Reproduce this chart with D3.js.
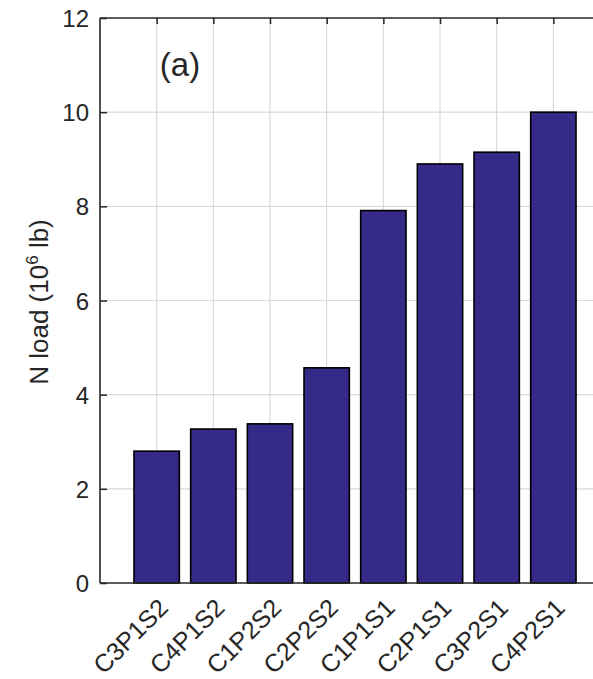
<!DOCTYPE html>
<html>
<head>
<meta charset="utf-8">
<script src="https://cdn.jsdelivr.net/npm/d3@7"></script>
<style>
  html, body { margin: 0; padding: 0; background: #fff; }
  svg { display: block; }
  text { font-family: "Liberation Sans", Arial, Helvetica, sans-serif; fill: #262626; }
</style>
</head>
<body>
<svg id="chart" width="593" height="679"></svg>
<script>
const categories = ["C3P1S2", "C4P1S2", "C1P2S2", "C2P2S2", "C1P1S1", "C2P1S1", "C3P2S1", "C4P2S1"];
const values = [2.80, 3.27, 3.38, 4.57, 7.91, 8.90, 9.15, 10.0];
const yTicks = [0, 2, 4, 6, 8, 10, 12];
const panelLabel = "(a)";

const svg = d3.select("#chart");
const mLeft = 100, mTop = 18, mBottom = 583;
const step = 56.67;
const mRight = mLeft + step * (categories.length + 1);

const x = d3.scalePoint().domain(categories).range([mLeft + step, mRight - step]);
const y = d3.scaleLinear().domain([0, 12]).range([mBottom, mTop]);
const barW = step * 0.8;

const axisColor = "#262626";
const gridColor = "#dadada";

// grid
svg.append("g").selectAll("line").data(categories).join("line")
  .attr("x1", d => x(d)).attr("x2", d => x(d))
  .attr("y1", mTop).attr("y2", mBottom)
  .attr("stroke", gridColor).attr("stroke-width", 1.2);
svg.append("g").selectAll("line").data(yTicks.slice(1, -1)).join("line")
  .attr("x1", mLeft).attr("x2", mRight)
  .attr("y1", d => y(d)).attr("y2", d => y(d))
  .attr("stroke", gridColor).attr("stroke-width", 1.2);

// bars
svg.append("g").selectAll("rect").data(values).join("rect")
  .attr("x", (d, i) => x(categories[i]) - barW / 2)
  .attr("y", d => y(d))
  .attr("width", barW)
  .attr("height", d => y(0) - y(d))
  .attr("fill", "#352a87")
  .attr("stroke", "#000")
  .attr("stroke-width", 1.6);

// left axis (ticks inward)
const yAxis = d3.axisLeft(y).tickValues(yTicks).tickSize(-7).tickPadding(11).tickFormat(d3.format("d"));
const gy = svg.append("g").attr("transform", `translate(${mLeft},0)`).call(yAxis);
gy.select(".domain").remove();
gy.selectAll(".tick line").attr("stroke", axisColor).attr("stroke-width", 1.5);
gy.selectAll(".tick text").attr("font-size", 24).attr("fill", axisColor).attr("dy", "0.36em");

// top axis ticks (inward)
const xTop = d3.axisTop(x).tickSize(-6).tickFormat("");
const gt = svg.append("g").attr("transform", `translate(0,${mTop})`).call(xTop);
gt.select(".domain").remove();
gt.selectAll(".tick line").attr("stroke", axisColor).attr("stroke-width", 1.5);

// bottom axis labels
const xBottom = d3.axisBottom(x).tickSize(0).tickPadding(0);
const gb = svg.append("g").attr("transform", `translate(0,${mBottom})`).call(xBottom);
gb.select(".domain").remove();
gb.selectAll(".tick text")
  .attr("font-size", 25)
  .attr("fill", axisColor)
  .attr("text-anchor", "end")
  .attr("y", 0)
  .attr("dy", "0.36em")
  .attr("transform", "translate(6,20) rotate(-45)");

// box lines
svg.append("line").attr("x1", mLeft).attr("x2", mLeft).attr("y1", mTop).attr("y2", mBottom)
  .attr("stroke", axisColor).attr("stroke-width", 1.6);
svg.append("line").attr("x1", mLeft).attr("x2", mRight).attr("y1", mTop).attr("y2", mTop)
  .attr("stroke", axisColor).attr("stroke-width", 1.6);
svg.append("line").attr("x1", mLeft).attr("x2", mRight).attr("y1", mBottom).attr("y2", mBottom)
  .attr("stroke", axisColor).attr("stroke-width", 1.6);

// y label
svg.append("text")
  .attr("transform", `translate(48,302) rotate(-90)`)
  .attr("text-anchor", "middle")
  .attr("font-size", 26)
  .attr("fill", axisColor)
  .call(t => {
    t.append("tspan").text("N load (10");
    t.append("tspan").attr("font-size", 17).attr("dy", -10).text("6");
    t.append("tspan").attr("dy", 10).text(" lb)");
  });

// panel label
svg.append("text")
  .attr("x", 180).attr("y", 76)
  .attr("text-anchor", "middle")
  .attr("font-size", 33)
  .attr("fill", "#000")
  .text(panelLabel);
</script>
</body>
</html>
